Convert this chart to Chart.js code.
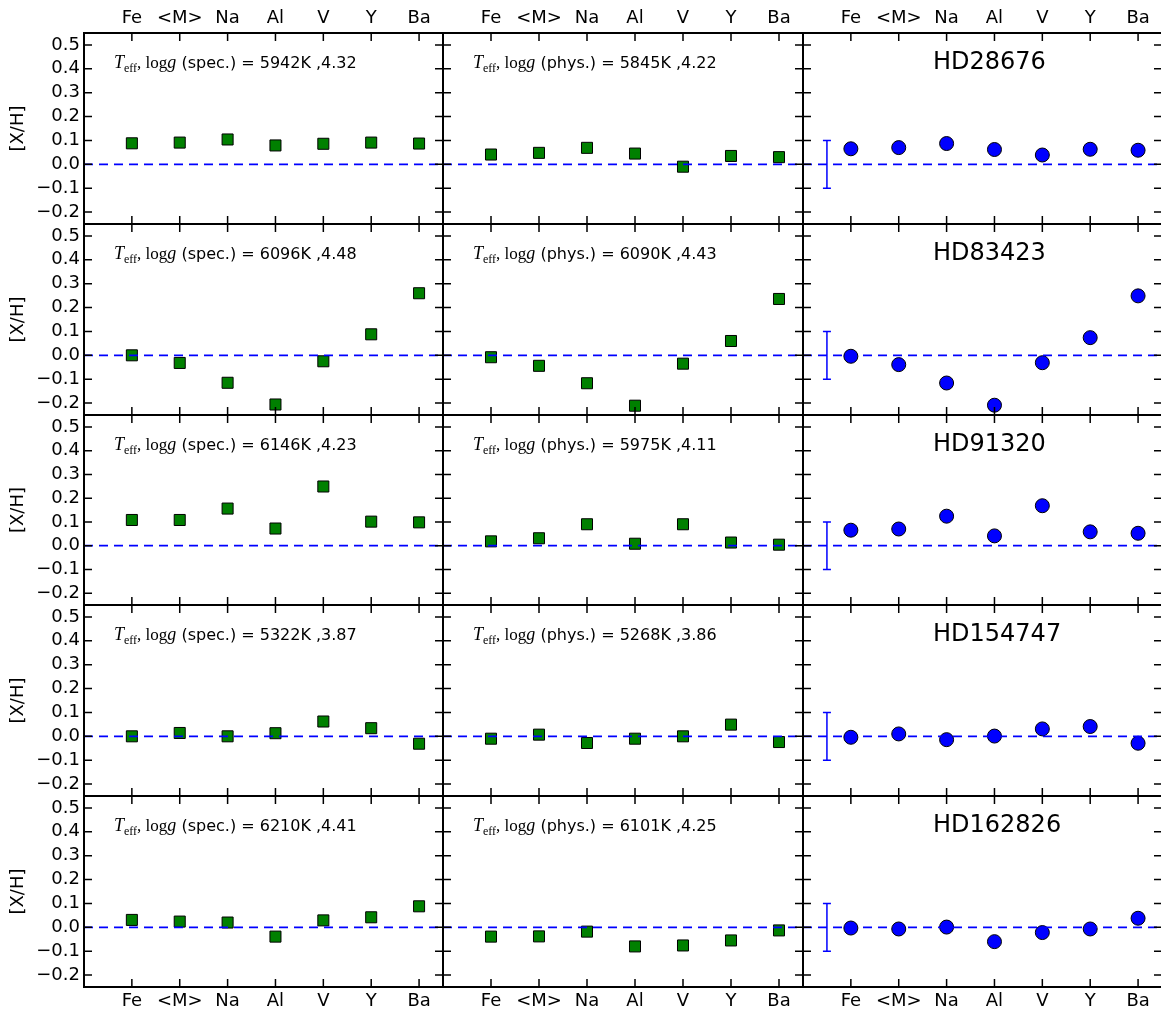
<!DOCTYPE html>
<html>
<head>
<meta charset="utf-8">
<script src="https://cdn.jsdelivr.net/npm/chart.js@4/dist/chart.umd.min.js"></script>
<style>
html, body { margin: 0; padding: 0; background: #fff; overflow: hidden; width: 1161px; height: 1011px; }
canvas { position: absolute; }
</style>
</head>
<body>
<script>
// categories and ticks
var elements = ['Fe', '<M>', 'Na', 'Al', 'V', 'Y', 'Ba'];
var yTicks = [-0.2, -0.1, 0.0, 0.1, 0.2, 0.3, 0.4, 0.5];
var stars = ['HD28676', 'HD83423', 'HD91320', 'HD154747', 'HD162826'];

// stellar parameters shown in the panels
var specTeff = [5942, 6096, 6146, 5322, 6210];
var specLogg = ['4.32', '4.48', '4.23', '3.87', '4.41'];
var physTeff = [5845, 6090, 5975, 5268, 6101];
var physLogg = ['4.22', '4.43', '4.11', '3.86', '4.25'];

// [X/H] with spectroscopic parameters (left column)
var specAbund = [
	[0.088, 0.091, 0.104, 0.079, 0.086, 0.091, 0.087],
	[0.000, -0.032, -0.115, -0.206, -0.025, 0.088, 0.260],
	[0.108, 0.108, 0.156, 0.072, 0.249, 0.101, 0.098],
	[0.000, 0.014, 0.000, 0.013, 0.062, 0.034, -0.031],
	[0.031, 0.024, 0.020, -0.039, 0.029, 0.042, 0.088]
];
// [X/H] with physical parameters (middle column)
var physAbund = [
	[0.041, 0.048, 0.069, 0.045, -0.010, 0.035, 0.030],
	[-0.008, -0.044, -0.117, -0.211, -0.035, 0.060, 0.236],
	[0.018, 0.031, 0.090, 0.008, 0.090, 0.013, 0.004],
	[-0.010, 0.007, -0.028, -0.010, 0.000, 0.049, -0.024],
	[-0.039, -0.038, -0.018, -0.080, -0.076, -0.055, -0.013]
];
// [X/H] per star (right column)
var starAbund = [
	[0.065, 0.070, 0.087, 0.062, 0.039, 0.063, 0.059],
	[-0.004, -0.039, -0.116, -0.209, -0.031, 0.074, 0.249],
	[0.065, 0.070, 0.124, 0.041, 0.168, 0.058, 0.052],
	[-0.004, 0.010, -0.014, 0.001, 0.031, 0.041, -0.029],
	[-0.003, -0.007, 0.001, -0.060, -0.022, -0.007, 0.038]
];
var errX = 0.5, errY = 0.1;

// panel grid in page pixels
var colX = [84, 443, 803, 1162];
var rowY = [33, 224, 415, 605, 796, 987];
var PAD = 8;

Chart.defaults.font.family = 'DejaVu Sans';
Chart.defaults.font.size = 18;
Chart.defaults.color = '#000';

function fmtY(v) {
	var s = Math.abs(v).toFixed(1);
	return v < -1e-9 ? '\u2212' + s : s;
}

function drawParams(ctx, x, y, kind, teff, logg) {
	ctx.textAlign = 'left';
	ctx.textBaseline = 'alphabetic';
	ctx.fillStyle = '#000';
	ctx.font = 'italic 18px "Liberation Serif"';
	ctx.fillText('T', x, y);
	x += ctx.measureText('T').width;
	ctx.font = '12px "Liberation Serif"';
	ctx.fillText('eff', x, y + 4);
	x += ctx.measureText('eff').width;
	ctx.font = '17px "Liberation Serif"';
	ctx.fillText(', log', x, y);
	x += ctx.measureText(', log').width;
	ctx.font = 'italic 18px "Liberation Serif"';
	ctx.fillText('g', x, y);
	x += ctx.measureText('g').width;
	ctx.font = '16px "DejaVu Sans"';
	ctx.fillText(' (' + kind + '.) = ' + teff + 'K ,' + logg, x, y);
}

var panelDecor = {
	id: 'panelDecor',
	afterDraw: function (chart, args, o) {
		var ctx = chart.ctx, a = chart.chartArea;
		var xs = chart.scales.x, ys = chart.scales.y;
		ctx.save();
		ctx.strokeStyle = '#000';
		ctx.lineWidth = 1.5;
		ctx.beginPath();
		yTicks.forEach(function (v) {
			var py = ys.getPixelForValue(v);
			ctx.moveTo(a.left, py); ctx.lineTo(a.left + 8, py);
			ctx.moveTo(a.right, py); ctx.lineTo(a.right - 8, py);
		});
		elements.forEach(function (e, i) {
			var px = xs.getPixelForValue(i + 1);
			ctx.moveTo(px, a.top); ctx.lineTo(px, a.top + 8);
			ctx.moveTo(px, a.bottom); ctx.lineTo(px, a.bottom - 8);
		});
		ctx.stroke();
		ctx.lineWidth = 2;
		ctx.strokeRect(Math.round(a.left), Math.round(a.top),
			Math.round(a.right) - Math.round(a.left), Math.round(a.bottom) - Math.round(a.top));

		if (o.col == 2) {
			var ex = xs.getPixelForValue(errX);
			var y1 = ys.getPixelForValue(errY), y2 = ys.getPixelForValue(-errY);
			ctx.strokeStyle = '#0000ff';
			ctx.lineWidth = 1.5;
			ctx.beginPath();
			ctx.moveTo(ex, y1); ctx.lineTo(ex, y2);
			ctx.moveTo(ex - 4, y1); ctx.lineTo(ex + 4, y1);
			ctx.moveTo(ex - 4, y2); ctx.lineTo(ex + 4, y2);
			ctx.stroke();
			ctx.fillStyle = '#000';
			ctx.font = '24px "DejaVu Sans"';
			ctx.textAlign = 'left';
			ctx.textBaseline = 'alphabetic';
			ctx.fillText(stars[o.row], a.left + 130, a.top + 36);
		} else if (o.col == 0) {
			drawParams(ctx, a.left + 30, a.top + 35, 'spec', specTeff[o.row], specLogg[o.row]);
		} else {
			drawParams(ctx, a.left + 30, a.top + 35, 'phys', physTeff[o.row], physLogg[o.row]);
		}
		ctx.restore();
	}
};

function xAxis(pos, show, h) {
	return {
		type: 'linear',
		position: pos,
		min: 0,
		max: 7.5,
		display: show,
		grid: { display: false, drawTicks: false },
		border: { display: false },
		afterBuildTicks: function (s) {
			s.ticks = elements.map(function (e, i) { return { value: i + 1 }; });
		},
		afterFit: function (s) {
			if (show) s.height = h;
			s.paddingLeft = 0;
			s.paddingRight = 0;
		},
		ticks: {
			autoSkip: false, maxRotation: 0, minRotation: 0, padding: 4,
			callback: function (v) { return elements[v - 1]; }
		}
	};
}

function makePanel(r, c) {
	var vals = c == 0 ? specAbund[r] : (c == 1 ? physAbund[r] : starAbund[r]);
	var L = colX[c], R = colX[c + 1], T = rowY[r], B = rowY[r + 1];
	var x0 = c == 0 ? 0 : L - PAD;
	var y0 = r == 0 ? 0 : T - PAD;
	var x1 = R + PAD;
	var y1 = r == 4 ? 1011 : B + PAD;

	var cv = document.createElement('canvas');
	cv.width = x1 - x0;
	cv.height = y1 - y0;
	cv.style.left = x0 + 'px';
	cv.style.top = y0 + 'px';
	document.body.appendChild(cv);

	new Chart(cv, {
		type: 'scatter',
		data: {
			datasets: [{
				type: 'line',
				data: [{ x: 0, y: 0 }, { x: 7.5, y: 0 }],
				borderColor: '#0000ff',
				borderWidth: 1.8,
				borderDash: [9, 6],
				pointRadius: 0,
				fill: false,
				order: 0
			}, {
				data: vals.map(function (v, i) { return { x: i + 1, y: v }; }),
				pointStyle: c == 2 ? 'circle' : 'rect',
				pointRadius: c == 2 ? 7 : 7.8,
				backgroundColor: c == 2 ? '#0000ff' : '#008000',
				borderColor: '#000',
				borderWidth: 1,
				order: 1
			}]
		},
		options: {
			responsive: false,
			animation: false,
			devicePixelRatio: 1,
			events: [],
			layout: {
				autoPadding: false,
				padding: {
					left: c == 0 ? 0 : PAD,
					right: PAD,
					top: r == 0 ? 0 : PAD,
					bottom: r == 4 ? 0 : PAD
				}
			},
			plugins: {
				legend: { display: false },
				tooltip: { enabled: false },
				panelDecor: { col: c, row: r }
			},
			scales: {
				x: xAxis('bottom', r == 4, 1011 - rowY[5]),
				x2: xAxis('top', r == 0, rowY[0]),
				y: {
					type: 'linear',
					position: 'left',
					min: -0.25,
					max: 0.55,
					display: c == 0,
					grid: { display: false, drawTicks: false },
					border: { display: false },
					afterBuildTicks: function (s) {
						s.ticks = yTicks.map(function (v) { return { value: v }; });
					},
					afterFit: function (s) {
						if (c == 0) s.width = colX[0];
						s.paddingTop = 0;
						s.paddingBottom = 0;
					},
					ticks: { autoSkip: false, padding: 4, callback: fmtY },
					title: {
						display: true,
						text: '[X/H]',
						font: { size: 18 },
						padding: { top: 8, bottom: 0 }
					}
				}
			}
		},
		plugins: [panelDecor]
	});
}

for (var r = 0; r < 5; r++) {
	for (var c = 0; c < 3; c++) {
		makePanel(r, c);
	}
}
</script>
</body>
</html>
